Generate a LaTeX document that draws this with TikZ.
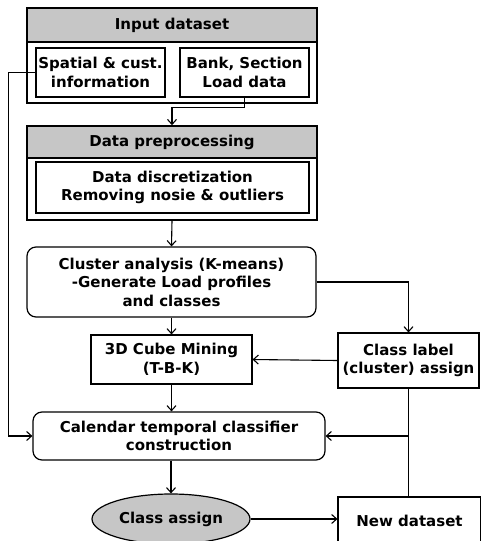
\documentclass[tikz,border=0pt]{standalone}
\usepackage{fontspec}
\setmainfont{DejaVu Sans}
\usetikzlibrary{shapes.geometric,arrows.meta}
\tikzset{
  txt/.style={font=\bfseries\fontsize{15}{18.5}\selectfont, align=center, inner sep=0pt},
  frame/.style={draw, line width=1.6pt, inner sep=0pt},
  head/.style={frame, txt, fill=gray!45},
  box/.style={txt, draw, line width=1.1pt},
  rbox/.style={box, rounded corners=9pt, line width=1.2pt},
  oval/.style={txt, ellipse, draw, line width=1.2pt, fill=gray!45},
  arr/.style={line width=1.1pt, -{Straight Barb[length=5pt,width=9pt]}},
  link/.style={line width=1.1pt}
}
\begin{document}
\begin{tikzpicture}[x=1pt,y=-1pt]
  \useasboundingbox (0,0) rectangle (481,541);
  % Input dataset group
  \node[frame, minimum width=290, minimum height=95] (inframe) at (172,55.5) {};
  \node[head, minimum width=290, minimum height=34] (inhead) at (172,25) {Input dataset};
  \node[box, minimum width=129, minimum height=49] (spatial) at (100.5,72.5) {Spatial \& cust.\\information};
  \node[box, minimum width=129, minimum height=49] (bank) at (244.5,72.5) {Bank, Section\\Load data};
  % Data preprocessing group
  \node[frame, minimum width=290, minimum height=94] (prepframe) at (172,173) {};
  \node[head, minimum width=290, minimum height=32] (prephead) at (172,142) {Data preprocessing};
  \node[box, minimum width=273, minimum height=51] (prepin) at (172.5,187.5) {Data discretization\\Removing nosie \& outliers};
  % Processing steps
  \node[rbox, minimum width=289, minimum height=70] (cluster) at (171.5,282) {Cluster analysis (K-means)\\-Generate Load profiles\\and classes};
  \node[box, minimum width=161, minimum height=49] (cube) at (171.5,359.5) {3D Cube Mining\\(T-B-K)};
  \node[box, minimum width=141, minimum height=55] (label) at (408.5,360.5) {Class label\\(cluster) assign};
  \node[rbox, minimum width=292, minimum height=48] (cal) at (179,436) {Calendar temporal classifier\\construction};
  \node[oval, minimum width=158, minimum height=50] (assign) at (171,519) {Class assign};
  \node[box, minimum width=143, minimum height=48] (newdata) at (409.5,521) {New dataset};
  % Connectors
  \draw[arr] (bank.south) -- ++(0,10) -| (prephead.north);
  \draw[arr] (spatial.west) -- ++(-27,0) |- (cal.west);
  \draw[arr] (prepframe.south) -- (cluster.north);
  \draw[arr] (cluster.east) -| (label.north);
  \draw[arr] (cluster.south) -- (cube.north);
  \draw[arr] (label.west) -- (cube.east);
  \draw[arr] (cube.south) -- (cube.south |- cal.north);
  \draw[link] (label.south) -- (newdata.north -| label.south);
  \coordinate (br) at (label.south |- cal.east);
  \draw[arr] (br) -- (cal.east);
  \draw[arr] (cal.south -| assign.north) -- (assign.north);
  \draw[arr] (assign.east) -- (assign.east -| newdata.west);
\end{tikzpicture}
\end{document}
